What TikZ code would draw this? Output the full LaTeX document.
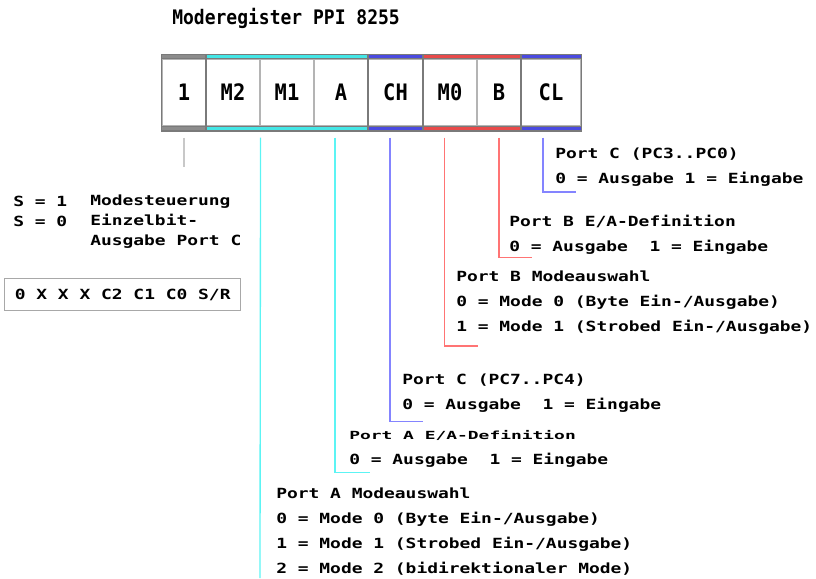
\documentclass[tikz,border=0pt]{standalone}
\usepackage{fontspec}
\usetikzlibrary{calc}
\newfontfamily\regfont[FakeStretch=0.9]{DejaVu Sans Mono}
\newfontfamily\bodyfont[FakeStretch=1.28]{DejaVu Sans Mono}
\newfontfamily\flatfont[FakeStretch=1.6]{DejaVu Sans Mono}
\definecolor{regframe}{HTML}{7A7A7A}
\definecolor{thinframe}{HTML}{B4B4B4}
\definecolor{boxline}{HTML}{A8A8A8}
\definecolor{graybar}{HTML}{8C8C8C}
\definecolor{cyanbar}{HTML}{44E6E6}
\definecolor{bluebar}{HTML}{4A4AE0}
\definecolor{redbar}{HTML}{E84A4A}
\definecolor{graywire}{HTML}{C8C8C8}
\definecolor{cyanwire}{HTML}{5CF4F4}
\definecolor{bluewire}{HTML}{8484FF}
\definecolor{redwire}{HTML}{FF7474}

\begin{document}
\begin{tikzpicture}[
  x=0.75pt, y=-0.75pt,
  cell/.style={draw=thinframe, line width=0.8pt, minimum height=50.25pt, inner sep=0pt,
    font=\regfont\bfseries\fontsize{17}{20}\selectfont},
  group/.style={draw=regframe, line width=1.1pt},
  wire/.style={line width=1pt},
  txt/.style={anchor=west, inner sep=0pt, align=left,
    font=\bodyfont\bfseries\fontsize{10.5}{18.75}\selectfont},
  lefttxt/.style={txt, font=\bodyfont\bfseries\fontsize{10.5}{15}\selectfont}
]
\useasboundingbox (0,0) rectangle (816,578);

\node[anchor=west, inner sep=0pt, font=\regfont\bfseries\fontsize{15}{18}\selectfont] (title) at (172,18) {Moderegister PPI 8255};

\node[cell, minimum width=33pt] (c1) at (184,92.5) {1};
\node[cell, minimum width=40.5pt] (m2) at (233,92.5) {M2};
\node[cell, minimum width=40.5pt] (m1) at (287,92.5) {M1};
\node[cell, minimum width=40.5pt] (a) at (341,92.5) {A};
\node[cell, minimum width=41.25pt] (ch) at (395.5,92.5) {CH};
\node[cell, minimum width=40.5pt] (m0) at (450,92.5) {M0};
\node[cell, minimum width=33pt] (b) at (499,92.5) {B};
\node[cell, minimum width=45pt] (cl) at (551,92.5) {CL};

\fill[graybar] ($(c1.north west)+(0,-4)$) rectangle (c1.north east);
\fill[graybar] (c1.south west) rectangle ($(c1.south east)+(0,4.5)$);
\fill[cyanbar] ($(m2.north west)+(0,-4)$) rectangle (a.north east);
\fill[cyanbar] (m2.south west) rectangle ($(a.south east)+(0,4.5)$);
\fill[bluebar] ($(ch.north west)+(0,-4)$) rectangle (ch.north east);
\fill[bluebar] (ch.south west) rectangle ($(ch.south east)+(0,4.5)$);
\fill[redbar] ($(m0.north west)+(0,-4)$) rectangle (b.north east);
\fill[redbar] (m0.south west) rectangle ($(b.south east)+(0,4.5)$);
\fill[bluebar] ($(cl.north west)+(0,-4)$) rectangle (cl.north east);
\fill[bluebar] (cl.south west) rectangle ($(cl.south east)+(0,4.5)$);

\draw[group] ($(c1.north west)+(0,-4)$) rectangle ($(c1.south east)+(0,4.5)$) (c1.north west) rectangle (c1.south east);
\draw[group] ($(m2.north west)+(0,-4)$) rectangle ($(a.south east)+(0,4.5)$) (m2.north west) rectangle (a.south east);
\draw[group] ($(ch.north west)+(0,-4)$) rectangle ($(ch.south east)+(0,4.5)$) (ch.north west) rectangle (ch.south east);
\draw[group] ($(m0.north west)+(0,-4)$) rectangle ($(b.south east)+(0,4.5)$) (m0.north west) rectangle (b.south east);
\draw[group] ($(cl.north west)+(0,-4)$) rectangle ($(cl.south east)+(0,4.5)$) (cl.north west) rectangle (cl.south east);

\node[txt] (pcl) at (555,167.5) {Port C (PC3..PC0)\\0 = Ausgabe 1 = Eingabe};
\node[txt] (pbe) at (509,235) {Port B E/A-Definition\\0 = Ausgabe~ 1 = Eingabe};
\node[txt] (pbm) at (456,302.5) {Port B Modeauswahl\\0 = Mode 0 (Byte Ein-/Ausgabe)\\1 = Mode 1 (Strobed Ein-/Ausgabe)};
\node[txt] (pch) at (402,393.5) {Port C (PC7..PC4)\\0 = Ausgabe~ 1 = Eingabe};
\node[txt] (pae) at (349,449) {{\flatfont\fontsize{8.4}{17.5}\selectfont Port A E/A-Definition}\\0 = Ausgabe~ 1 = Eingabe};
\node[txt] (pam) at (276,531.5) {Port A Modeauswahl\\0 = Mode 0 (Byte Ein-/Ausgabe)\\1 = Mode 1 (Strobed Ein-/Ausgabe)\\2 = Mode 2 (bidirektionaler Mode)};

\node[lefttxt] (sel) at (13,211.7) {S = 1\\S = 0};
\node[lefttxt] (seltext) at (90,221.7) {Modesteuerung\\Einzelbit-\\Ausgabe Port C};
\node[draw=boxline, line width=0.8pt, minimum width=177pt, minimum height=24.3pt, inner sep=0pt,
  font=\bodyfont\bfseries\fontsize{10.5}{12}\selectfont]
  (bitset) at (122.7,294.5) {0 X X X C2 C1 C0 S/R};

\coordinate (pcl-end) at (576,192);
\coordinate (pbe-end) at (532,257.7);
\coordinate (pbm-end) at (478,346);
\coordinate (pch-end) at (423.3,421.7);
\coordinate (pae-end) at (370,472.7);
\coordinate (pam-end) at (260,578);

\draw[wire, graywire] ([yshift=-8.25pt]c1.south) -- ++(0,29);
\draw[wire, cyanwire] ([yshift=-8.25pt]m2.south east) -- (pam-end);
\draw[wire, cyanwire] ([xshift=-4.5pt,yshift=-8.25pt]a.south) |- (pae-end);
\draw[wire, bluewire] ([xshift=-4.1pt,yshift=-8.25pt]ch.south) |- (pch-end);
\draw[wire, redwire] ([xshift=-4.3pt,yshift=-8.25pt]m0.south) |- (pbm-end);
\draw[wire, redwire] ([yshift=-8.25pt]b.south) |- (pbe-end);
\draw[wire, bluewire] ([xshift=-6pt,yshift=-8.25pt]cl.south) |- (pcl-end);
\end{tikzpicture}
\end{document}
